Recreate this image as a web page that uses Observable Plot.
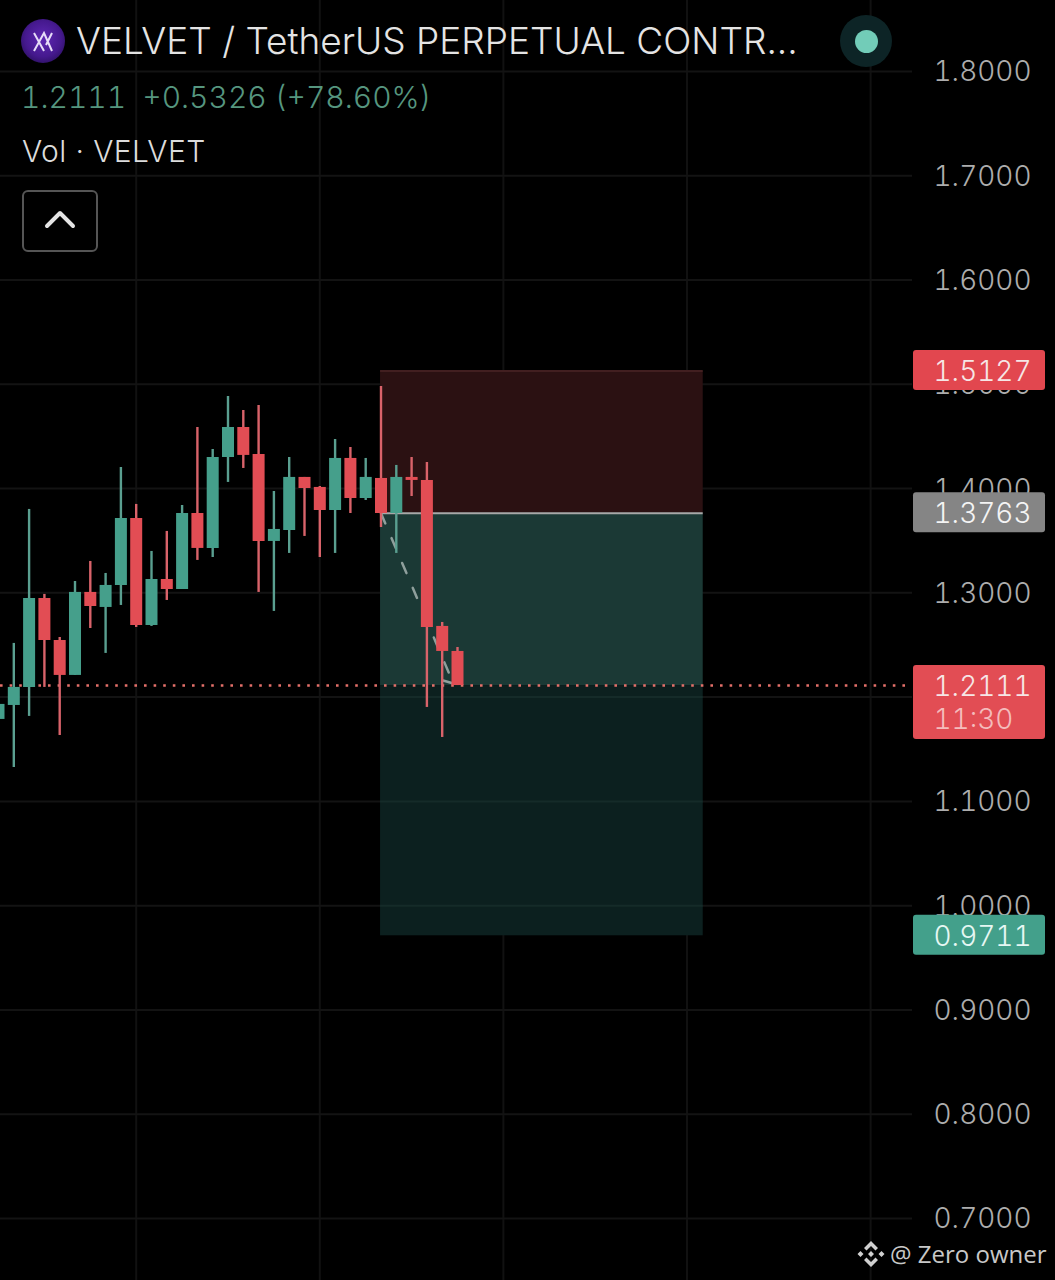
<!DOCTYPE html>
<html><head><meta charset="utf-8">
<script src="https://cdn.jsdelivr.net/npm/d3@7"></script>
<script src="https://cdn.jsdelivr.net/npm/@observablehq/plot@0.6"></script>
<style>
html,body{margin:0;padding:0;background:#000;}
#page{position:relative;width:1055px;height:1280px;overflow:hidden;background:#000;font-family:Inter,Roboto,sans-serif;}
#page svg.chart{display:block;}
.ov{position:absolute;white-space:nowrap;}
</style></head>
<body><div id="page"></div>
<script>
const opens  =[1.1786,1.1920,1.2093,1.2946,1.2543,1.2208,1.3004,1.2860,1.3071,1.3713,1.2687,1.3128,1.3032,1.3761,1.3426,1.4298,1.4586,1.4327,1.3493,1.3598,1.4107,1.4011,1.3790,1.4289,1.3905,1.4097,1.3761,1.4107,1.4078,1.2678,1.2438];
const highs  =[1.1930,1.2515,1.3800,1.2985,1.2572,1.3109,1.3301,1.3186,1.4202,1.3848,1.3397,1.3589,1.3838,1.4586,1.4375,1.4883,1.4749,1.4797,1.3972,1.4298,1.4107,1.4020,1.4471,1.4394,1.4289,1.4979,1.4222,1.4298,1.4250,1.2716,1.2476];
const lows   =[1.1786,1.1325,1.1815,1.2093,1.1632,1.2208,1.2658,1.2419,1.2879,1.2668,1.2678,1.2927,1.3032,1.3311,1.3339,1.4059,1.4193,1.3004,1.2822,1.3378,1.3541,1.3339,1.3378,1.3761,1.3886,1.3627,1.3378,1.3924,1.1901,1.1613,1.2111];
const closes =[1.1930,1.2093,1.2946,1.2543,1.2208,1.3004,1.2869,1.3071,1.3713,1.2687,1.3128,1.3032,1.3761,1.3426,1.4298,1.4586,1.4318,1.3493,1.3608,1.4107,1.4001,1.3790,1.4289,1.3905,1.4107,1.3761,1.4107,1.4078,1.2668,1.2438,1.2111];
const yTicks =[1.8,1.7,1.6,1.5,1.4,1.3,1.2,1.1,1.0,0.9,0.8,0.7];
const xGrid  =[9,21,33,45,57];
const stopPrice=1.5127, entryPrice=1.3763, lastPrice=1.2111, targetPrice=0.9711;
const zoneStart=24.97, zoneEnd=46.06;
const pathX=[25,29.73], pathY=[1.3763,1.2131];
const barbX=[29.06,29.73], barbY=[1.2159,1.2131];
const tags=[
 {label:"1.5127",price:1.5127,fill:"#e2474f",color:"#f6e6e6"},
 {label:"1.3763",price:1.3763,fill:"#858585",color:"#f4f4f4"},
 {label:"0.9711",price:0.9711,fill:"#43a08b",color:"#e6f7f3"}
];

const candles=opens.map((o,i)=>({i,open:o,high:highs[i],low:lows[i],close:closes[i],up:closes[i]>=o}));
const UP="#459f8b",DOWN="#e24d54",UPW="#5a9f90",DOWNW="#d9636a";
const pxPerSlot=15.3;
const xDomain=[2/pxPerSlot,(2+1055)/pxPerSlot];
const yDomain=[1.8+71/1042.7,1.8-(1280-71)/1042.7];
const axisFont={fontFamily:"Inter, sans-serif",fontSize:28,fontWeight:300,letterSpacing:"1.05px",fontVariant:"tabular-nums"};

const chart=Plot.plot({
  width:1055,height:1280,margin:0,
  style:{background:"#000",overflow:"visible"},
  x:{domain:xDomain,range:[0,1055],axis:null},
  y:{domain:yDomain,range:[0,1280],axis:null},
  marks:[
    Plot.ruleX(xGrid,{x:d=>d,stroke:"#111111",strokeWidth:2}),
    Plot.ruleY(yTicks,{y:d=>d,stroke:"#131313",strokeWidth:2,insetRight:143}),
    Plot.rect([0],{x1:zoneStart,x2:zoneEnd,y1:stopPrice,y2:entryPrice,fill:"#2b1112"}),
    Plot.rect([0],{x1:zoneStart,x2:zoneEnd,y1:entryPrice,y2:lastPrice,fill:"#1b3935"}),
    Plot.rect([0],{x1:zoneStart,x2:zoneEnd,y1:lastPrice,y2:targetPrice,fill:"#0c201f"}),
    Plot.ruleY([1.2,1.1,1.0],{x1:zoneStart,x2:zoneEnd,y:d=>d,stroke:"#152b29",strokeWidth:2}),
    Plot.ruleY([entryPrice],{x1:zoneStart,x2:zoneEnd,y:d=>d,stroke:"#a8a8a8",strokeWidth:2}),
    Plot.ruleY([stopPrice],{x1:zoneStart,x2:zoneEnd,y:d=>d,stroke:"#421f20",strokeWidth:2}),
    Plot.ruleY([lastPrice],{y:d=>d,insetRight:148,stroke:"#e4706a",strokeWidth:2.6,strokeDasharray:"2.6 7"}),
    Plot.line(pathX.map((x,k)=>({x,y:pathY[k]})),{x:"x",y:"y",stroke:"#8f9f9c",strokeWidth:2.5,strokeDasharray:"11 16"}),
    Plot.line(barbX.map((x,k)=>({x,y:barbY[k]})),{x:"x",y:"y",stroke:"#8f9f9c",strokeWidth:2.5}),
    Plot.ruleX(candles,{x:"i",y1:"low",y2:"high",stroke:d=>d.up?UPW:DOWNW,strokeWidth:2.4}),
    Plot.ruleX(candles,{x:"i",y1:"open",y2:"close",stroke:d=>d.up?UP:DOWN,strokeWidth:12}),
    Plot.axisY(yTicks,{anchor:"right",tickSize:0,tickPadding:-122,tickFormat:d3.format(".4f"),fill:"#adadad",textAnchor:"start",dy:1,...axisFont,label:null}),
    Plot.rect(tags,{y1:d=>d.price+0.0197,y2:d=>d.price-0.0187,insetLeft:913,insetRight:10,rx:3,fill:d=>d.fill}),
    Plot.rect([lastPrice],{y1:d=>d+0.0192,y2:d=>d-0.0518,insetLeft:913,insetRight:10,rx:3,fill:DOWN}),
    Plot.text(tags,{y:"price",text:"label",fill:"color",frameAnchor:"left",dx:933,dy:1,textAnchor:"start",...axisFont}),
    Plot.text(["1.2111"],{y:lastPrice,dy:1,text:d=>d,fill:"#f6e6e6",frameAnchor:"left",dx:933,textAnchor:"start",...axisFont}),
    Plot.text(["11:30"],{y:lastPrice,dy:34,text:d=>d,fill:"#f4bcbc",frameAnchor:"left",dx:933,textAnchor:"start",...axisFont})
  ]
});
chart.classList.add("chart");
const page=document.getElementById("page");
page.appendChild(chart);
const overlay=document.createElement("div");
overlay.innerHTML=`
<div class="ov" style="left:21px;top:19px;width:44px;height:44px;border-radius:50%;background:radial-gradient(circle at 50% 45%,#5f28b4 0%,#45198e 55%,#1a0a40 100%);"></div>
<svg class="ov" style="left:32px;top:31px" width="22" height="22" viewBox="0 0 22 22" fill="none" stroke="#e6dcf7" stroke-width="2"><path d="M2 2 L12 20 M2 20 L12 2 L20 20 M20 2 L14 14" /></svg>
<div class="ov" style="left:76px;top:18px;font-size:37px;line-height:46px;color:#e4e4e4;font-family:Inter,sans-serif;font-weight:300;letter-spacing:0">VELVET / TetherUS PERPETUAL CONTR...</div>
<div class="ov" style="left:21px;top:78px;font-size:30px;line-height:38px;color:#56967f;font-family:Inter,sans-serif;font-weight:300;letter-spacing:0;font-variant-numeric:tabular-nums">1.2111&nbsp; +0.5326 (+78.60%)</div>
<div class="ov" style="left:22px;top:132px;font-size:30px;line-height:38px;color:#dcdcdc;font-family:Inter,sans-serif;font-weight:300;letter-spacing:.4px">Vol · VELVET</div>
<div class="ov" style="left:22px;top:190px;width:72px;height:58px;border:2px solid #555;border-radius:6px;"></div>
<svg class="ov" style="left:44px;top:208px" width="32" height="22" fill="none" stroke="#e4e4e4" stroke-width="4" stroke-linecap="round" stroke-linejoin="round"><path d="M3 18 L16 5 L29 18"/></svg>
<div class="ov" style="left:840px;top:15px;width:52px;height:52px;border-radius:50%;background:#0d2426;"></div>
<div class="ov" style="left:855px;top:30px;width:23px;height:23px;border-radius:50%;background:#72ccb8;"></div>
<svg class="ov" style="left:856px;top:1239px" width="30" height="30" viewBox="0 0 30 30" fill="#d0d0d0"><path d="M15 2 L22 9 L19.5 11.5 L15 7 L10.500 11.500 L8 9 Z M15 28 L22 21 L19.5 18.5 L15 23 L10.500 18.5 L8 21 Z M15 12 L18 15 L15 18 L12 15 Z M4.500 12 L7.500 15 L4.500 18 L1.500 15 Z M25.500 12 L28.500 15 L25.500 18 L22.500 15 Z"/></svg>
<div class="ov" style="left:890px;top:1238px;font-size:24px;line-height:32px;color:#c8c8c8;font-family:'Open Sans',sans-serif;letter-spacing:0">@ Zero owner</div>`;
page.appendChild(overlay);
</script></body></html>
